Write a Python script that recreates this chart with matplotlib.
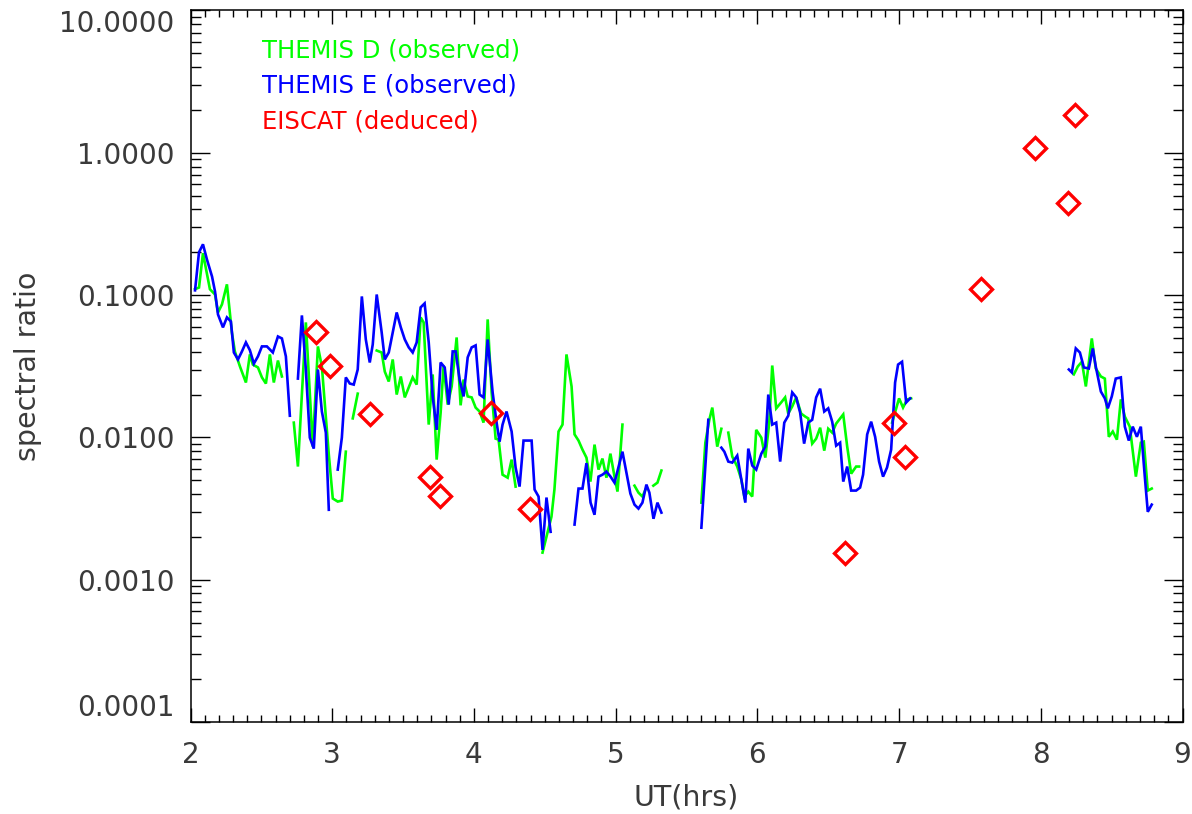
import numpy as np
import matplotlib
matplotlib.use("Agg")
import matplotlib.pyplot as plt
from matplotlib.ticker import FixedLocator, NullFormatter, LogLocator

nan = np.nan

# THEMIS D (observed) - green; NaN separates data gaps
t_d = [2.032, 2.060, 2.088, 2.137, 2.173, 2.194, 2.222, 2.257, 2.292, 2.313, 2.349, 2.391,
       2.419, 2.440, 2.476, 2.504, 2.532, 2.560, 2.588, 2.617, 2.645, nan,
       2.729, 2.758, 2.814, 2.863, 2.899, 2.927, 2.976, 3.004, 3.039, 3.068, 3.096, nan,
       3.145, 3.180, nan,
       3.314, 3.349, 3.371, 3.399, 3.427, 3.455, 3.484, 3.512, 3.568, 3.596, 3.624, 3.645,
       3.681, 3.709, 3.737, 3.765, 3.786, 3.815, 3.843, 3.878, 3.906, 3.927, 3.956, 3.984,
       4.012, 4.040, 4.068, 4.097, 4.125, 4.153, 4.174, 4.202, 4.238, 4.266, 4.294, nan,
       4.484, 4.547, 4.568, 4.597, 4.625, 4.653, 4.689, 4.710, 4.738, 4.766, 4.794, 4.822,
       4.851, 4.879, 4.907, 4.935, 4.963, 4.992, 5.013, 5.048, nan,
       5.133, 5.161, 5.189, 5.217, nan,
       5.266, 5.295, 5.323, nan,
       5.605, 5.633, 5.661, 5.682, 5.717, 5.746, nan,
       5.795, 5.823, 5.858, 5.887, 5.908, 5.936, 5.964, 5.992, 6.028, 6.056, 6.084, 6.105,
       6.133, 6.168, 6.196, 6.218, 6.246, 6.274, 6.309, 6.338, 6.359, 6.387, 6.415, 6.443,
       6.472, 6.500, 6.528, 6.556, 6.606, 6.634, 6.662, 6.697, 6.718, nan,
       6.951, 7.000, 7.028, 7.057, 7.085, nan,
       8.233, 8.261, 8.290, 8.318, 8.360, 8.388, 8.424, 8.452, 8.480, 8.508, 8.537, 8.565,
       8.593, 8.628, 8.671, 8.706, 8.727, 8.755, 8.783]
ratio_d = [0.110, 0.113, 0.197, 0.110, 0.101, 0.0755, 0.086, 0.119, 0.0547, 0.0402, 0.0315, 0.0243,
           0.0383, 0.0325, 0.031, 0.0264, 0.0239, 0.0383, 0.0243, 0.0347, 0.0268, nan,
           0.0127, 0.00624, 0.0643, 0.00861, 0.0436, 0.0315, 0.00757, 0.00372, 0.00354, 0.0036, 0.00794, nan,
           0.0136, 0.0203, nan,
           0.0408, 0.0395, 0.029, 0.0247, 0.0353, 0.020, 0.0268, 0.0191, 0.0264, 0.0235, 0.0697, 0.0643,
           0.0123, 0.0277, 0.00698, 0.0149, 0.032, 0.017, 0.0228, 0.0504, 0.0168, 0.0255, 0.0194, 0.0191,
           0.0162, 0.0152, 0.0127, 0.0675, 0.0207, 0.0098, 0.00964, 0.00547, 0.00521, 0.00698, 0.00451, nan,
           0.00155, 0.00277, 0.0043, 0.011, 0.0123, 0.0383, 0.0228, 0.0105, 0.0095, 0.0082, 0.00721, 0.00489,
           0.0089, 0.00594, 0.0071, 0.00521, 0.00769, 0.0053, 0.00416, 0.0123, nan,
           0.00458, 0.00409, 0.00384, 0.00444, nan,
           0.00458, 0.00481, 0.00585, nan,
           0.00348, 0.00918, 0.0133, 0.0162, 0.00861, 0.0115, nan,
           0.0108, 0.00733, 0.00624, 0.00505, 0.00384, 0.00416, 0.00384, 0.0113, 0.00996, 0.00721, 0.0127, 0.032,
           0.016, 0.0176, 0.0191, 0.0147, 0.0165, 0.0191, 0.0147, 0.014, 0.0136, 0.00904, 0.0098, 0.0117,
           0.00807, 0.0115, 0.0108, 0.0125, 0.0145, 0.00861, 0.00556, 0.00624, 0.00624, nan,
           0.0127, 0.0188, 0.0162, 0.0185, 0.0188, nan,
           0.0277, 0.0315, 0.034, 0.0228, 0.0496, 0.0305, 0.0268, 0.0259, 0.0101, 0.011, 0.00964, 0.0185,
           0.014, 0.0119, 0.0053, 0.00918, 0.00933, 0.00423, 0.00437]

# THEMIS E (observed) - blue
t_e = [2.032, 2.060, 2.088, 2.116, 2.152, 2.173, 2.194, 2.229, 2.257, 2.285, 2.306, 2.335,
       2.363, 2.391, 2.419, 2.447, 2.476, 2.504, 2.539, 2.581, 2.617, 2.645, 2.673, 2.701, nan,
       2.758, 2.786, 2.814, 2.842, 2.870, 2.899, 2.927, 2.955, 2.976, nan,
       3.039, 3.068, 3.096, 3.124, 3.152, 3.180, 3.209, 3.237, 3.265, 3.286, 3.314, 3.349,
       3.371, 3.399, 3.455, 3.484, 3.512, 3.540, 3.568, 3.596, 3.624, 3.652, 3.681, 3.709,
       3.737, 3.765, 3.794, 3.822, 3.850, 3.871, 3.899, 3.927, 3.956, 3.984, 4.012, 4.040,
       4.068, 4.097, 4.132, 4.160, 4.181, 4.202, 4.230, 4.266, 4.294, 4.322, 4.350, 4.407,
       4.428, 4.456, 4.484, 4.512, 4.541, nan,
       4.710, 4.738, 4.766, 4.794, 4.823, 4.851, 4.879, 4.907, 4.935, 4.964, 4.992, 5.048,
       5.076, 5.104, 5.133, 5.161, 5.189, 5.217, 5.238, 5.267, 5.295, 5.323, nan,
       5.605, 5.633, 5.654, nan,
       5.746, 5.767, 5.795, 5.823, 5.858, 5.887, 5.915, 5.936, 5.964, 5.992, 6.028, 6.056,
       6.077, 6.105, 6.133, 6.161, 6.190, 6.218, 6.246, 6.274, 6.302, 6.330, 6.359, 6.387,
       6.415, 6.443, 6.472, 6.500, 6.528, 6.556, 6.584, 6.606, 6.634, 6.662, 6.697, 6.725,
       6.746, 6.775, 6.803, 6.831, 6.859, 6.887, 6.915, 6.944, 6.972, 6.993, 7.021, 7.050,
       7.078, nan,
       8.198, 8.219, 8.247, 8.276, 8.304, 8.339, 8.367, 8.388, 8.424, 8.452, 8.473, 8.501,
       8.529, 8.565, 8.593, 8.621, 8.649, 8.678, 8.706, 8.734, 8.755, 8.783]
ratio_e = [0.108, 0.200, 0.2275, 0.178, 0.135, 0.106, 0.0731, 0.0593, 0.0697, 0.0653, 0.0395, 0.0353,
           0.0402, 0.0465, 0.041, 0.033, 0.0371, 0.0436, 0.0436, 0.0395, 0.0512, 0.0496, 0.0371, 0.0142, nan,
           0.0259, 0.072, 0.030, 0.00996, 0.00834, 0.030, 0.0152, 0.0108, 0.0031, nan,
           0.00594, 0.00996, 0.0264, 0.0239, 0.0235, 0.030, 0.0979, 0.0488, 0.0336, 0.045, 0.101, 0.0547,
           0.0353, 0.0395, 0.0755, 0.0593, 0.0488, 0.0429, 0.0395, 0.0465, 0.082, 0.0874, 0.0465, 0.0194,
           0.0113, 0.0336, 0.031, 0.017, 0.0402, 0.0402, 0.0255, 0.0194, 0.0365, 0.0429, 0.0443, 0.020,
           0.0191, 0.0488, 0.0207, 0.0127, 0.00933, 0.0123, 0.0152, 0.011, 0.00614, 0.00451, 0.0095, 0.0095,
           0.0043, 0.00384, 0.00162, 0.00378, 0.00217, nan,
           0.00244, 0.00437, 0.00437, 0.0066, 0.00348, 0.00286, 0.0053, 0.00547, 0.00575, 0.0053, 0.00481, 0.00794,
           0.00565, 0.00403, 0.00337, 0.00316, 0.00348, 0.00466, 0.00409, 0.00268, 0.00348, 0.00296, nan,
           0.00232, 0.00624, 0.0133, nan,
           0.00847, 0.00794, 0.00676, 0.00665, 0.00745, 0.00505, 0.00348, 0.00834, 0.00634, 0.00594, 0.00769, 0.00861,
           0.020, 0.0123, 0.0127, 0.00676, 0.0127, 0.0142, 0.0207, 0.0191, 0.0149, 0.00904, 0.0127, 0.0133,
           0.0191, 0.022, 0.0152, 0.016, 0.0129, 0.00875, 0.00918, 0.00489, 0.00624, 0.00423, 0.00423, 0.00444,
           0.00547, 0.0105, 0.0129, 0.0101, 0.00676, 0.0053, 0.00614, 0.0082, 0.0243, 0.0325, 0.034, 0.0176,
           0.0188, nan,
           0.030, 0.0286, 0.0422, 0.0395, 0.031, 0.0305, 0.0422, 0.0315, 0.021, 0.0188, 0.016, 0.0194,
           0.0259, 0.0264, 0.0119, 0.0095, 0.0119, 0.0101, 0.0119, 0.0053, 0.003, 0.00337]

# EISCAT (deduced) - red diamonds
t_eiscat = [2.884, 2.983, 3.265, 3.688, 3.758, 4.118, 4.393, 6.620, 6.964, 7.042, 7.578, 7.958, 8.191, 8.240]
ratio_eiscat = [0.0547, 0.032, 0.0145, 0.0053, 0.0039, 0.0149, 0.00316, 0.00155, 0.0127, 0.00733,
                0.1097, 1.077, 0.442, 1.84]

x_ticks = [2, 3, 4, 5, 6, 7, 8, 9]
y_ticks = [1e-4, 1e-3, 1e-2, 1e-1, 1, 10]
y_ticklabels = ["0.0001", "0.0010", "0.0100", "0.1000", "1.0000", "10.0000"]
legend_labels = ["THEMIS D (observed)", "THEMIS E (observed)", "EISCAT (deduced)"]

GREEN = "#00ff00"
BLUE = "#0000ff"
RED = "#ff0000"
TXT = "#3a3a3a"

plt.rcParams['font.family'] = ['DejaVu Sans']
FS_TICK = 20
FS_LAB = 20.5
FS_LEG = 17.5

fig = plt.figure(figsize=(11.92, 8.14), dpi=100)
ax = fig.add_axes([190.5 / 1192, 1 - 722 / 814, (1182.5 - 190.5) / 1192, (722 - 10.5) / 814])

ax.plot(t_d, ratio_d, color=GREEN, lw=1.9, solid_joinstyle='miter')
ax.plot(t_e, ratio_e, color=BLUE, lw=1.9, solid_joinstyle='miter')
ax.plot(t_eiscat, ratio_eiscat, linestyle='none', marker='D', markersize=11.5,
        markerfacecolor='none', markeredgecolor=RED, markeredgewidth=2.4)

ax.set_yscale('log')
ax.set_xlim(2, 9)
ax.set_ylim(1e-4, 10)

ax.xaxis.set_major_locator(FixedLocator(x_ticks))
ax.xaxis.set_minor_locator(FixedLocator(np.arange(2, 9.001, 0.1)))
ax.set_xticklabels([str(v) for v in x_ticks])
ax.yaxis.set_major_locator(FixedLocator(y_ticks))
ax.yaxis.set_minor_locator(LogLocator(base=10, subs=np.arange(2, 10)))
ax.yaxis.set_minor_formatter(NullFormatter())
ax.set_yticklabels(y_ticklabels)

ax.tick_params(axis='both', which='both', direction='in', top=True, right=True,
               labelsize=FS_TICK, colors='black', labelcolor=TXT)
ax.tick_params(axis='y', which='major', length=13.5, width=1.0, pad=11.5)
ax.tick_params(axis='y', which='minor', length=7.0, width=1.0)
ax.tick_params(axis='x', which='major', length=10, width=1.0, pad=14)
ax.tick_params(axis='x', which='minor', length=5, width=1.0)

for sp in ax.spines.values():
    sp.set_linewidth(1.1)

# IDL-style placement of the end labels
ylabs = ax.get_yticklabels()
ylabs[0].set_verticalalignment('bottom')
ylabs[-1].set_verticalalignment('top')

ax.set_xlabel("UT(hrs)", fontsize=FS_LAB, color=TXT, labelpad=10)
ax.set_ylabel("spectral ratio", fontsize=FS_LAB, color=TXT)
ax.yaxis.set_label_coords(-0.150, 0.5)

for i, (lab, col) in enumerate(zip(legend_labels, [GREEN, BLUE, RED])):
    ax.text(0.072, 0.944 - i * 0.05, lab, color=col, fontsize=FS_LEG,
            transform=ax.transAxes, ha='left', va='center')

fig.savefig("out.png", dpi=100)
